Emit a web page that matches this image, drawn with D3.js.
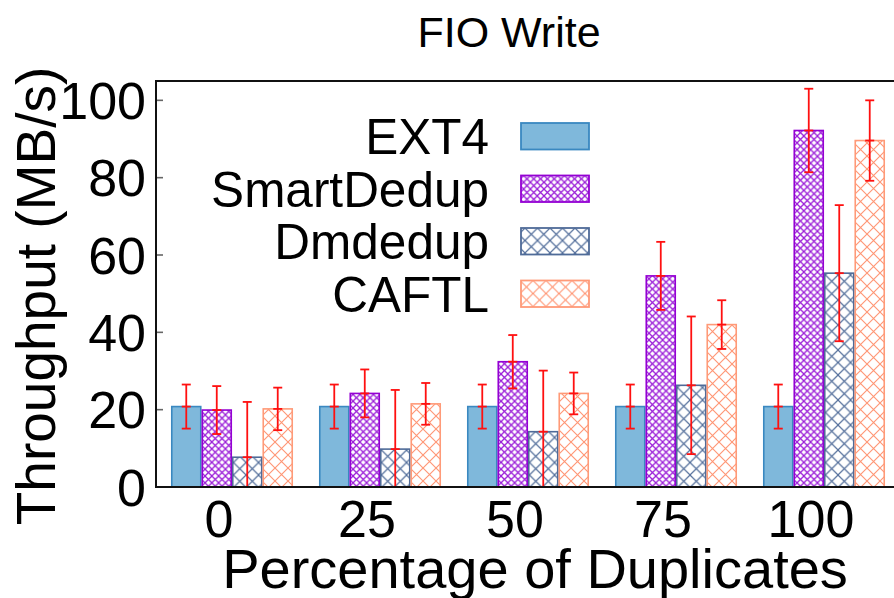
<!DOCTYPE html>
<html>
<head>
<meta charset="utf-8">
<script src="https://cdn.jsdelivr.net/npm/d3@7"></script>
<style>
  html, body { margin: 0; padding: 0; background: #fff; }
  svg { display: block; }
  text { font-family: "Liberation Sans", Arial, Helvetica, sans-serif; fill: #000; }
</style>
</head>
<body>
<svg id="chart" width="894" height="598"></svg>
<script>
// Percentage of duplicate data written by FIO
const categories = ["0", "25", "50", "75", "100"];
const seriesNames = ["EXT4", "SmartDedup", "Dmdedup", "CAFTL"];

// Throughput (MB/s) and error half-widths per series
const ext4 = [20.8, 20.8, 20.8, 20.8, 20.8];
const ext4Err = [5.7, 5.7, 5.7, 5.7, 5.7];
const smartDedup = [19.9, 24.2, 32.4, 54.6, 92.2];
const smartDedupErr = [6.2, 6.2, 6.9, 8.8, 10.8];
const dmdedup = [7.7, 9.8, 14.3, 26.3, 55.3];
const dmdedupErr = [14.3, 15.3, 15.8, 17.8, 17.6];
const caftl = [20.2, 21.5, 24.2, 42.0, 89.6];
const caftlErr = [5.5, 5.4, 5.4, 6.3, 10.4];

const yTicks = [0, 20, 40, 60, 80, 100];

const seriesValues = [ext4, smartDedup, dmdedup, caftl];
const seriesErrors = [ext4Err, smartDedupErr, dmdedupErr, caftlErr];

const styles = {
  EXT4:       { stroke: "#3a88c0", fill: "#7fb8db", pattern: null },
  SmartDedup: { stroke: "#9400d3", pattern: { id: "hatch-smart", size: 6.8, color: "#9b1ed8", width: 1.3 } },
  Dmdedup:    { stroke: "#4f6b98", pattern: { id: "hatch-dm", size: 12.5, color: "#55709c", width: 1.2 } },
  CAFTL:      { stroke: "#ff9a78", pattern: { id: "hatch-caftl", size: 13, color: "#ff9472", width: 1.1 } }
};

const svg = d3.select("#chart");
const defs = svg.append("defs");

// Diagonal cross-hatch patterns
Object.values(styles).forEach(s => {
  if (!s.pattern) return;
  const p = s.pattern;
  const pat = defs.append("pattern")
    .attr("id", p.id)
    .attr("patternUnits", "userSpaceOnUse")
    .attr("width", p.size)
    .attr("height", p.size);
  pat.append("rect").attr("width", p.size).attr("height", p.size).attr("fill", "#fff");
  pat.append("path")
    .attr("d", `M0,0L${p.size},${p.size}M${p.size},0L0,${p.size}`)
    .attr("stroke", p.color)
    .attr("stroke-width", p.width)
    .attr("fill", "none");
});
const fillOf = name => styles[name].pattern ? `url(#${styles[name].pattern.id})` : styles[name].fill;

const plot = { left: 156, right: 898, top: 81, bottom: 487 };

const x0 = d3.scaleBand()
  .domain(categories)
  .range([plot.left + 2, plot.right])
  .paddingInner(0.176)
  .paddingOuter(0.088);

const x1 = d3.scaleBand()
  .domain(seriesNames)
  .range([0, x0.bandwidth()])
  .padding(0);

const y = d3.scaleLinear().domain([0, 105]).range([plot.bottom, plot.top]);

// Bars
const groups = svg.append("g").selectAll("g")
  .data(categories)
  .join("g")
  .attr("transform", d => `translate(${x0(d)},0)`);

groups.each(function(cat, ci) {
  const g = d3.select(this);
  const rows = seriesNames.map((name, si) => ({
    name, value: seriesValues[si][ci], err: seriesErrors[si][ci]
  }));
  g.selectAll("rect")
    .data(rows)
    .join("rect")
    .attr("x", d => x1(d.name) + 0.75)
    .attr("y", d => y(d.value))
    .attr("width", x1.bandwidth() - 1.5)
    .attr("height", d => y(0) - y(d.value))
    .attr("fill", d => fillOf(d.name))
    .attr("stroke", d => styles[d.name].stroke)
    .attr("stroke-width", 1.6);

  // Error bars
  const eb = g.selectAll("g.err")
    .data(rows)
    .join("g")
    .attr("class", "err")
    .attr("stroke", "#ff1010")
    .attr("stroke-width", 1.8);
  const cx = d => x1(d.name) + x1.bandwidth() / 2;
  const lo = d => y(Math.max(0, d.value - d.err));
  const hi = d => y(d.value + d.err);
  eb.append("line").attr("x1", cx).attr("x2", cx).attr("y1", lo).attr("y2", hi);
  eb.append("line").attr("x1", d => cx(d) - 4.5).attr("x2", d => cx(d) + 4.5).attr("y1", hi).attr("y2", hi);
  eb.filter(d => d.value - d.err > 0)
    .append("line").attr("x1", d => cx(d) - 4.5).attr("x2", d => cx(d) + 4.5).attr("y1", lo).attr("y2", lo);
  eb.append("line").attr("x1", d => cx(d) - 4.5).attr("x2", d => cx(d) + 4.5)
    .attr("y1", d => y(d.value)).attr("y2", d => y(d.value));
});

// Inward y ticks
svg.append("g").selectAll("line")
  .data(yTicks)
  .join("line")
  .attr("x1", plot.left).attr("x2", plot.left + 7)
  .attr("y1", d => y(d)).attr("y2", d => y(d))
  .attr("stroke", "#666").attr("stroke-width", 1.6);

// Plot frame
svg.append("rect")
  .attr("x", plot.left).attr("y", plot.top)
  .attr("width", plot.right - plot.left).attr("height", plot.bottom - plot.top)
  .attr("fill", "none").attr("stroke", "#111").attr("stroke-width", 2);

// Y tick labels
svg.append("g").selectAll("text")
  .data(yTicks)
  .join("text")
  .attr("x", 146).attr("y", d => y(d)).attr("dy", "0.36em")
  .attr("text-anchor", "end")
  .attr("font-size", 52)
  .text(d => d);

// X tick labels
svg.append("g").selectAll("text")
  .data(categories)
  .join("text")
  .attr("x", d => x0(d) + x0.bandwidth() / 2 - 13)
  .attr("y", 537)
  .attr("text-anchor", "middle")
  .attr("font-size", 52)
  .text(d => d);

// Titles
svg.append("text").attr("x", 509).attr("y", 47).attr("text-anchor", "middle")
  .attr("font-size", 43).text("FIO Write");
svg.append("text").attr("x", 535).attr("y", 588).attr("text-anchor", "middle")
  .attr("font-size", 56).text("Percentage of Duplicates");
svg.append("text")
  .attr("transform", "translate(55,296) rotate(-90)")
  .attr("text-anchor", "middle")
  .attr("font-size", 55)
  .text("Throughput (MB/s)");

// Legend
const legend = svg.append("g").selectAll("g")
  .data(seriesNames)
  .join("g")
  .attr("transform", (d, i) => `translate(0,${123 + i * 52.5})`);
legend.append("rect")
  .attr("x", 521).attr("y", 0).attr("width", 68).attr("height", 26.5)
  .attr("fill", d => fillOf(d))
  .attr("stroke", d => styles[d].stroke)
  .attr("stroke-width", 1.8);
legend.append("text")
  .attr("x", 489).attr("y", 13.25).attr("dy", "0.36em")
  .attr("text-anchor", "end")
  .attr("font-size", 49.5)
  .text(d => d);
</script>
</body>
</html>
